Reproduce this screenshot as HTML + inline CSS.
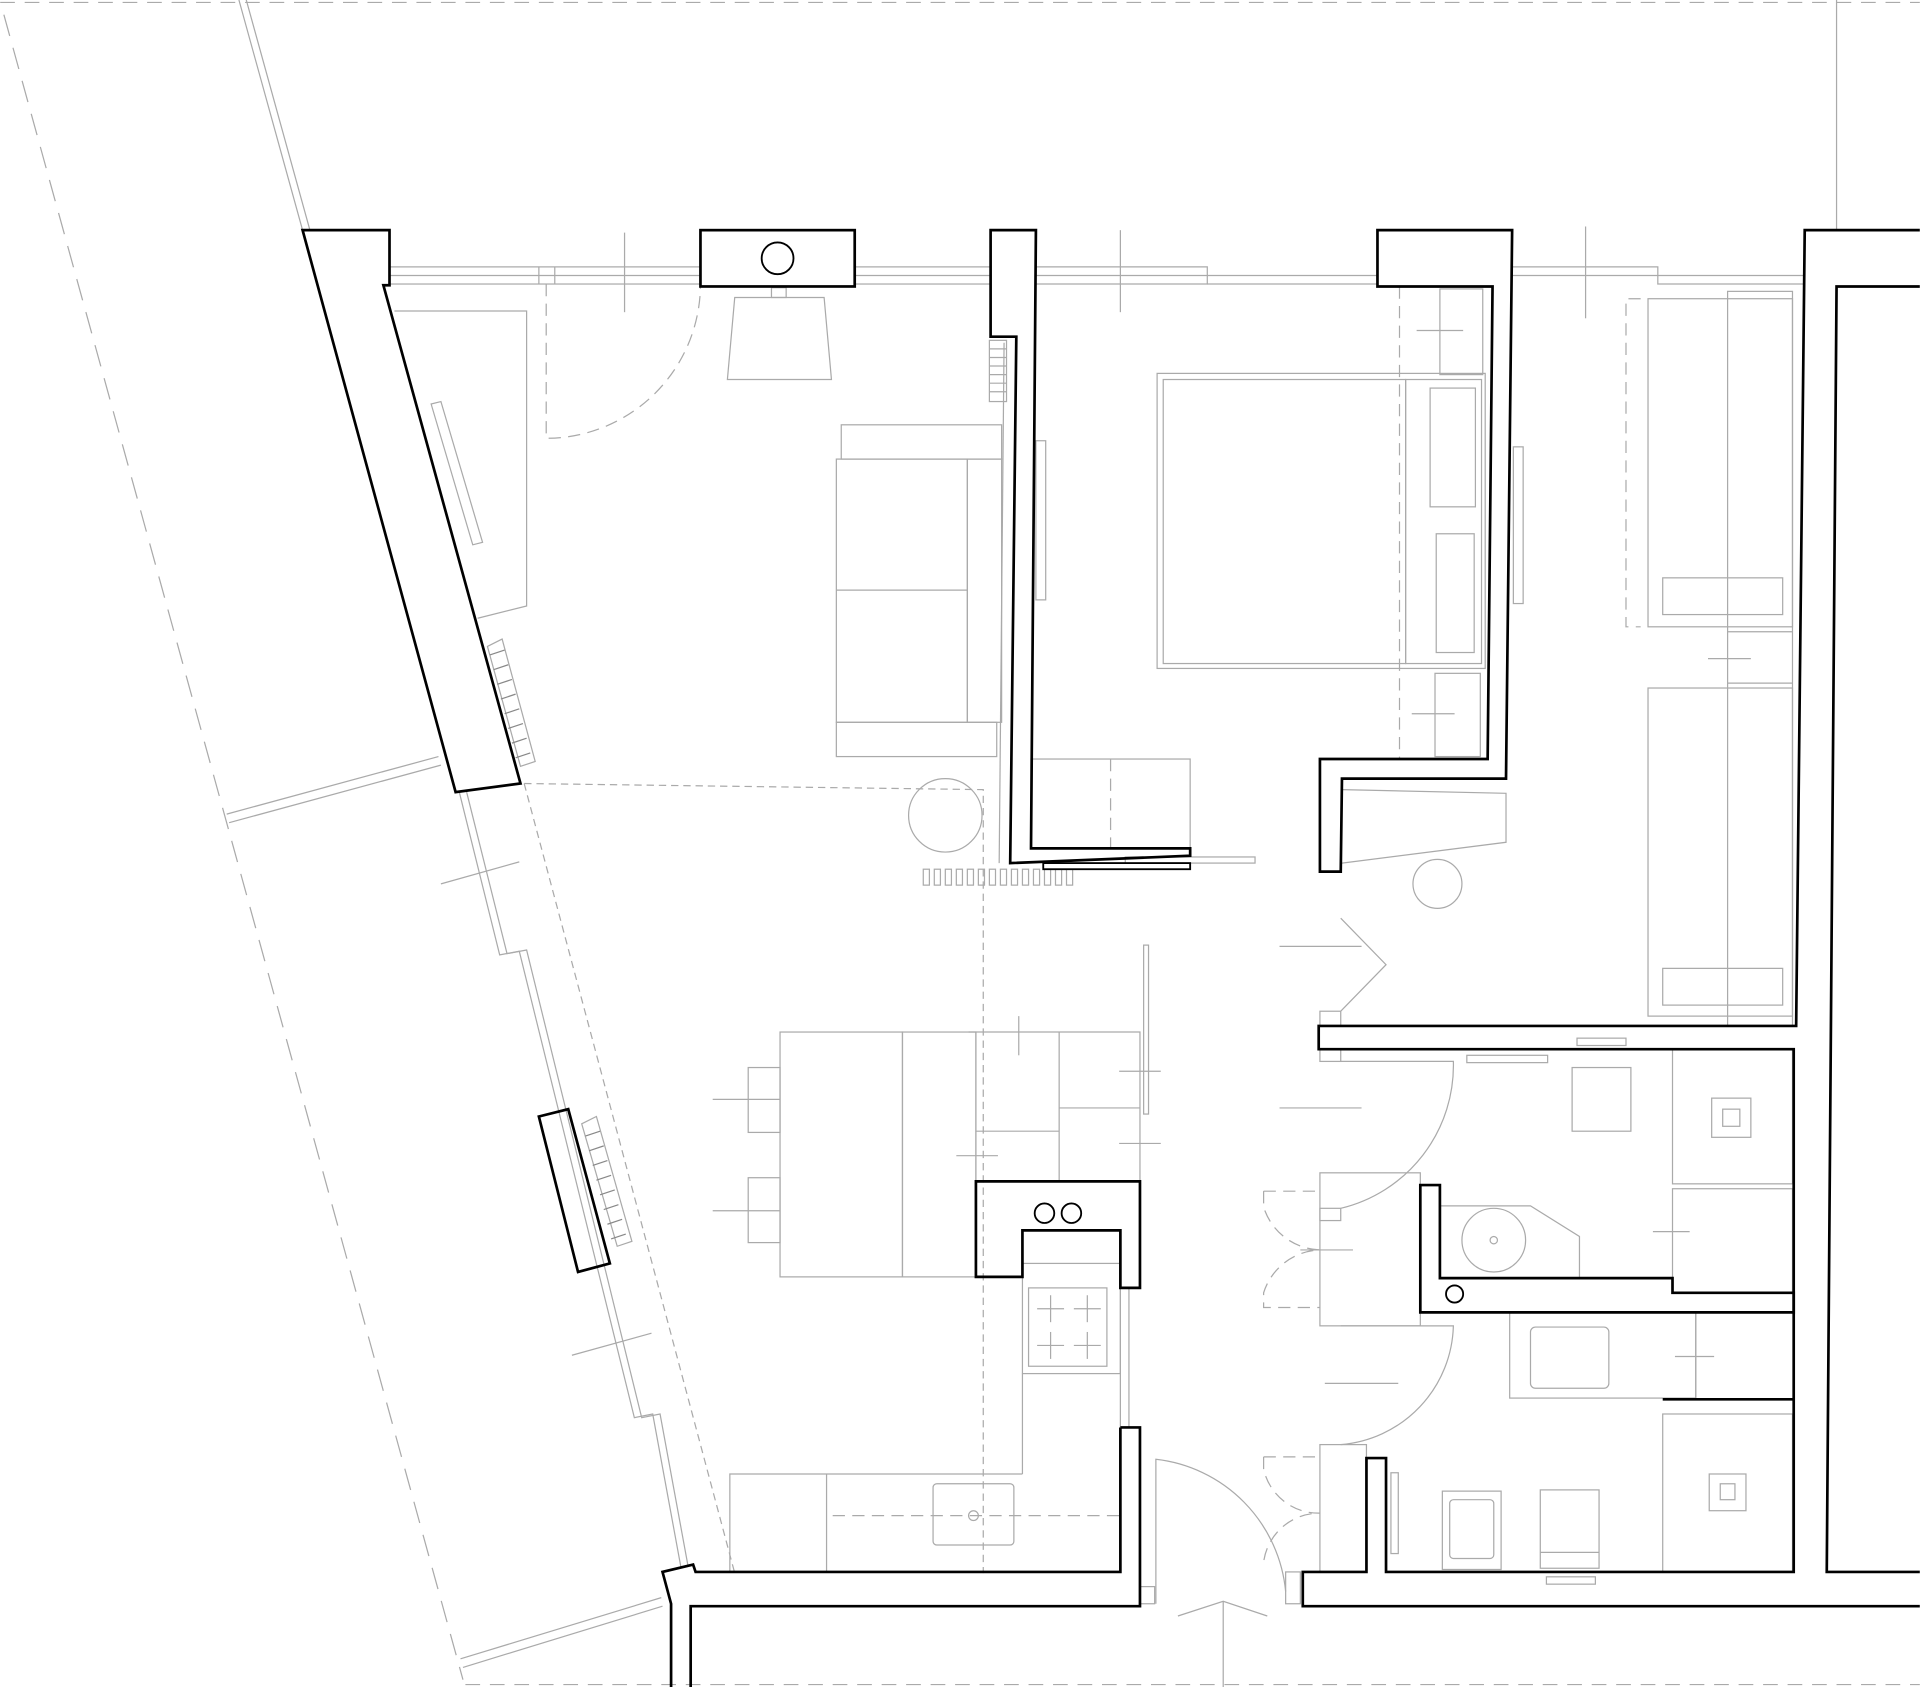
<!DOCTYPE html>
<html><head><meta charset="utf-8"><style>html,body{margin:0;padding:0;background:#fff}svg{display:block}</style></head><body>
<svg width="1920" height="1687" viewBox="0 0 1568 1378" xmlns="http://www.w3.org/2000/svg" fill="none" stroke-linejoin="miter">
<g stroke="#aaa" stroke-width="1">
<line x1="0" y1="2" x2="1568" y2="2" stroke-dasharray="12 8"/>
<line x1="380" y1="1376" x2="1568" y2="1376" stroke-dasharray="12 8"/>
<line x1="3" y1="12" x2="378" y2="1372" stroke-dasharray="18 10"/>
<line x1="1500" y1="0" x2="1500" y2="188"/>
<line x1="195" y1="0" x2="247" y2="188"/><line x1="201" y1="0" x2="253" y2="188"/>
<line x1="185" y1="665" x2="358" y2="618"/><line x1="187" y1="672" x2="360" y2="625"/>
<line x1="376" y1="1355" x2="540" y2="1305"/><line x1="378" y1="1362" x2="541" y2="1312"/>
<!-- lower left facade -->
<polyline points="375,647 408,780 424,777 518,1158 533,1155 556,1280"/>
<polyline points="381,647 414,779 430,776 524,1158 539,1155 562,1280"/>
<line x1="360" y1="722" x2="424" y2="704"/><line x1="467" y1="1107" x2="532" y2="1089"/>
<!-- top windows -->
<rect x="318" y="218" width="254" height="14"/><line x1="318" y1="225" x2="572" y2="225"/>
<line x1="440" y1="218" x2="440" y2="232"/><line x1="453" y1="218" x2="453" y2="232"/>
<line x1="510" y1="190" x2="510" y2="255"/>
<rect x="698" y="218" width="111" height="14"/><line x1="698" y1="225" x2="809" y2="225"/>
<polyline points="846,218 986,218 986,232 846,232"/><polyline points="986,225 1125,225"/><polyline points="986,232 1125,232"/>
<polyline points="846,225 986,225"/><line x1="915" y1="188" x2="915" y2="255"/>
<polyline points="1235,218 1354,218 1354,232 1474,232"/><line x1="1235" y1="225" x2="1474" y2="225"/><line x1="1295" y1="185" x2="1295" y2="260"/>
<!-- left room cabinet -->
<polyline points="322,254 430,254 430,495 390,505"/>
<polygon points="352,330 360,328 394,443 386,445"/>
<path d="M446,232 V358 A126,126 0 0 0 572,232" stroke-dasharray="10 6"/>
<!-- desk chair -->
<path d="M600,243 H673 L679,310 H594 Z"/><rect x="630" y="235" width="12" height="8"/>
<!-- sofa -->
<rect x="687" y="347" width="131" height="28"/><rect x="683" y="590" width="131" height="28"/>
<rect x="683" y="375" width="107" height="215"/><line x1="683" y1="482" x2="790" y2="482"/>
<rect x="790" y="375" width="28" height="215"/>
<line x1="820" y1="280" x2="816" y2="705"/>
<!-- radiators -->
<g>
<rect x="808" y="278" width="14" height="50"/>
<line x1="808" y1="285" x2="822" y2="285"/><line x1="808" y1="292" x2="822" y2="292"/><line x1="808" y1="299" x2="822" y2="299"/><line x1="808" y1="306" x2="822" y2="306"/><line x1="808" y1="313" x2="822" y2="313"/><line x1="808" y1="320" x2="822" y2="320"/>
</g>
<polygon points="398,528 410,522 437,622 425,626"/>
<polygon points="475,918 487,912 516,1014 504,1018"/>
<g stroke="#888">
<line x1="400" y1="535" x2="412" y2="531"/><line x1="403" y1="547" x2="415" y2="543"/><line x1="406" y1="559" x2="418" y2="555"/><line x1="409" y1="571" x2="421" y2="567"/><line x1="412" y1="583" x2="424" y2="579"/><line x1="415" y1="595" x2="427" y2="591"/><line x1="418" y1="607" x2="430" y2="603"/><line x1="421" y1="619" x2="433" y2="615"/>
<line x1="478" y1="928" x2="490" y2="924"/><line x1="481" y1="940" x2="493" y2="936"/><line x1="484" y1="952" x2="496" y2="948"/><line x1="487" y1="964" x2="499" y2="960"/><line x1="490" y1="976" x2="502" y2="972"/><line x1="493" y1="988" x2="505" y2="984"/><line x1="496" y1="1000" x2="508" y2="996"/><line x1="499" y1="1012" x2="511" y2="1008"/>
</g>
<g>
<rect x="754" y="710" width="5" height="13"/><rect x="763" y="710" width="5" height="13"/><rect x="772" y="710" width="5" height="13"/><rect x="781" y="710" width="5" height="13"/><rect x="790" y="710" width="5" height="13"/><rect x="799" y="710" width="5" height="13"/><rect x="808" y="710" width="5" height="13"/><rect x="817" y="710" width="5" height="13"/><rect x="826" y="710" width="5" height="13"/><rect x="835" y="710" width="5" height="13"/><rect x="844" y="710" width="5" height="13"/><rect x="853" y="710" width="5" height="13"/><rect x="862" y="710" width="5" height="13"/><rect x="871" y="710" width="5" height="13"/>
</g>
<!-- sliding door -->
<rect x="846" y="360" width="8" height="130"/>
<rect x="1236" y="365" width="8" height="128"/>
<!-- dashed zone lines -->
<polyline points="428,640 803,645 803,1285" stroke-dasharray="6 4"/>
<line x1="428" y1="640" x2="600" y2="1285" stroke-dasharray="6 4"/>
<circle cx="772" cy="666" r="30"/>
<!-- bed -->
<rect x="945" y="305" width="268" height="241"/>
<rect x="950" y="310" width="198" height="232"/>
<rect x="1148" y="310" width="62" height="232"/>
<rect x="1168" y="317" width="37" height="97"/><rect x="1173" y="436" width="31" height="97"/>
<rect x="1176" y="236" width="35" height="70"/><rect x="1172" y="550" width="37" height="68"/>
<line x1="1143" y1="234" x2="1143" y2="620" stroke-dasharray="10 6"/>
<line x1="1157" y1="270" x2="1195" y2="270"/><line x1="1153" y1="583" x2="1188" y2="583"/>
<rect x="842" y="620" width="130" height="73"/><line x1="907" y1="620" x2="907" y2="693" stroke-dasharray="10 6"/>
<rect x="919" y="700" width="106" height="5"/>
<polyline points="1096,645 1230,648 1230,688 1096,705"/>
<circle cx="1174" cy="722" r="20"/>
<!-- right wardrobes -->
<polyline points="1340,244 1328,244 1328,512 1340,512" stroke-dasharray="10 6"/>
<rect x="1346" y="244" width="118" height="268"/><rect x="1411" y="238" width="53" height="600"/>
<rect x="1358" y="472" width="98" height="30"/>
<rect x="1346" y="562" width="118" height="268"/><rect x="1358" y="791" width="98" height="30"/>
<line x1="1411" y1="516" x2="1464" y2="516"/><line x1="1411" y1="558" x2="1464" y2="558"/><line x1="1395" y1="538" x2="1430" y2="538"/>
<!-- corridor door -->
<line x1="1045" y1="773" x2="1112" y2="773"/><polyline points="1095,750 1132,788 1095,826"/>
<rect x="1078" y="826" width="17" height="12"/><rect x="1078" y="857" width="17" height="10"/>
<path d="M1095,867 H1187 A120,120 0 0 1 1095,987"/>
<line x1="1045" y1="905" x2="1112" y2="905"/>
<rect x="1078" y="987" width="17" height="10"/>
<rect x="1078" y="958" width="82" height="125"/>
<path d="M1032,973 H1078 M1032,973 V986 A50,50 0 0 0 1078,1021 A50,50 0 0 0 1032,1056 V1068 H1078" stroke-dasharray="10 6"/>
<line x1="1062" y1="1021" x2="1105" y2="1021"/>
<path d="M1095,1083 H1187 A100,100 0 0 1 1095,1180"/>
<line x1="1082" y1="1130" x2="1142" y2="1130"/>
<rect x="1078" y="1180" width="38" height="104"/>
<path d="M1032,1190 H1078 M1032,1190 V1200 A46,46 0 0 0 1078,1236 A46,46 0 0 0 1032,1276" stroke-dasharray="10 6"/>
<rect x="1050" y="1284" width="12" height="26"/>
<!-- bathroom -->
<rect x="1198" y="862" width="66" height="6"/><rect x="1288" y="848" width="40" height="6"/>
<rect x="1284" y="872" width="48" height="52"/>
<rect x="1366" y="857" width="98" height="110"/><rect x="1366" y="971" width="98" height="85"/>
<rect x="1398" y="897" width="32" height="32"/><rect x="1407" y="906" width="14" height="14"/>
<polyline points="1176,985 1250,985 1290,1010 1290,1044"/><circle cx="1220" cy="1013" r="26"/><circle cx="1220" cy="1013" r="3"/>
<line x1="1350" y1="1006" x2="1380" y2="1006"/>
<rect x="1233" y="1072" width="152" height="70"/><rect x="1250" y="1084" width="64" height="50" rx="4"/>
<line x1="1385" y1="1072" x2="1385" y2="1142"/><line x1="1368" y1="1108" x2="1400" y2="1108"/>
<rect x="1358" y="1155" width="106" height="129"/><rect x="1396" y="1204" width="30" height="30"/><rect x="1405" y="1212" width="12" height="13"/>
<rect x="1178" y="1218" width="48" height="64"/><rect x="1184" y="1225" width="36" height="48" rx="3"/>
<rect x="1258" y="1217" width="48" height="64"/><line x1="1258" y1="1268" x2="1306" y2="1268"/>
<rect x="1263" y="1288" width="40" height="6"/>
<rect x="1136" y="1203" width="6" height="66"/>
<!-- dining -->
<rect x="637" y="843" width="100" height="200"/><rect x="737" y="843" width="60" height="200"/>
<rect x="611" y="872" width="26" height="53"/><rect x="611" y="962" width="26" height="53"/>
<line x1="582" y1="898" x2="637" y2="898"/><line x1="582" y1="989" x2="637" y2="989"/>
<polyline points="791,843 931,843 931,965"/><line x1="797" y1="843" x2="797" y2="965"/>
<line x1="797" y1="924" x2="865" y2="924"/><line x1="865" y1="843" x2="865" y2="965"/><line x1="865" y1="905" x2="931" y2="905"/>
<line x1="832" y1="830" x2="832" y2="862"/><line x1="781" y1="944" x2="815" y2="944"/>
<line x1="914" y1="875" x2="948" y2="875"/><line x1="914" y1="934" x2="948" y2="934"/>
<rect x="934" y="772" width="4" height="138"/>
<!-- kitchen -->
<rect x="835" y="1032" width="80" height="90"/>
<rect x="840" y="1052" width="64" height="64"/>
<line x1="847" y1="1069" x2="869" y2="1069"/><line x1="858" y1="1058" x2="858" y2="1080"/><line x1="877" y1="1069" x2="899" y2="1069"/><line x1="888" y1="1058" x2="888" y2="1080"/>
<line x1="847" y1="1099" x2="869" y2="1099"/><line x1="858" y1="1088" x2="858" y2="1110"/><line x1="877" y1="1099" x2="899" y2="1099"/><line x1="888" y1="1088" x2="888" y2="1110"/>
<line x1="835" y1="1122" x2="835" y2="1204"/>
<polyline points="596,1284 596,1204 835,1204"/><line x1="675" y1="1204" x2="675" y2="1284"/>
<rect x="762" y="1212" width="66" height="50" rx="3"/><circle cx="795" cy="1238" r="4"/>
<line x1="680" y1="1238" x2="915" y2="1238" stroke-dasharray="10 6"/>
<line x1="915" y1="1052" x2="915" y2="1166"/><line x1="922" y1="1052" x2="922" y2="1166"/>
<line x1="931" y1="1284" x2="931" y2="1310"/><rect x="931" y="1296" width="12" height="14"/>
<path d="M944,1310 V1192 A120,120 0 0 1 1050,1300"/>
<polyline points="962,1320 999,1308 1035,1320"/><line x1="999" y1="1308" x2="999" y2="1378"/>
</g>
<g stroke="#000" stroke-width="2.2">
<polygon points="247,188 318,188 318,233 313,233 425,640 372,647"/>
<rect x="572" y="188" width="126" height="46"/><circle cx="635" cy="211" r="13" stroke-width="1.5"/>
<polygon points="809,188 846,188 842,693 972,693 972,699 825,705 830,275 809,275"/>
<rect x="852" y="705" width="120" height="5" stroke-width="1.5"/>
<polygon points="1125,188 1235,188 1230,636 1096,636 1095,712 1078,712 1078,620 1215,620 1219,234 1125,234"/>
<polyline points="1568,188 1474,188 1467,838 1077,838 1077,857 1465,857 1465,1284 1132,1284 1132,1191 1116,1191 1116,1284 1064,1284 1064,1312 1568,1312"/>
<polyline points="1568,234 1500,234 1492,1284 1568,1284"/>
<polygon points="1160,968 1176,968 1176,1044 1366,1044 1366,1056 1465,1056 1465,1072 1160,1072"/>
<line x1="1358" y1="1143" x2="1465" y2="1143"/>
<circle cx="1188" cy="1057" r="7" stroke-width="1.5"/>
<polygon points="797,965 931,965 931,1052 915,1052 915,1005 835,1005 835,1043 797,1043"/>
<circle cx="853" cy="991" r="8" stroke-width="1.5"/><circle cx="875" cy="991" r="8" stroke-width="1.5"/>
<polyline points="915,1166 931,1166 931,1312 564,1312 564,1378"/>
<polyline points="915,1166 915,1284 568,1284 566,1278 541,1284 548,1310 548,1378"/>
<polygon points="440,912 464,906 498,1032 472,1039"/>
</g>
</svg>
</body></html>
